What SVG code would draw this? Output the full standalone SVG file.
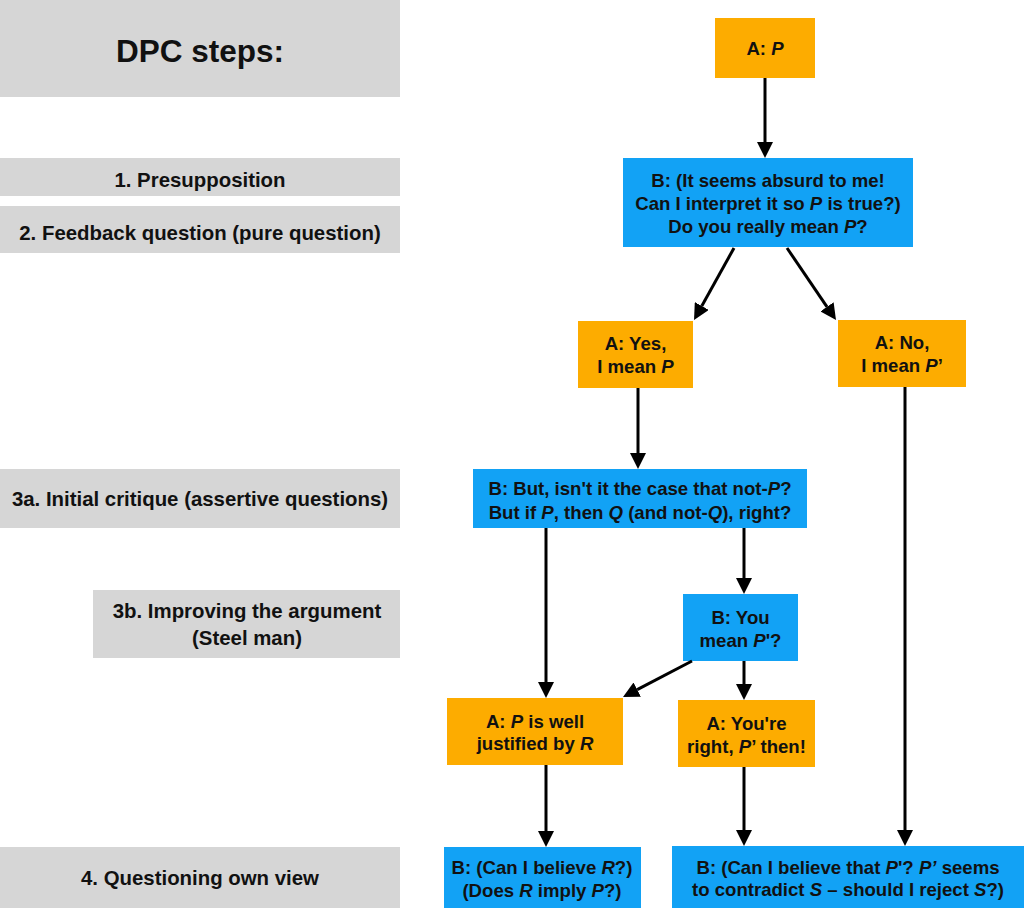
<svg xmlns="http://www.w3.org/2000/svg" width="1024" height="908" viewBox="0 0 1024 908">
<style>
text{font-family:"Liberation Sans",Arial,sans-serif;font-weight:bold;fill:#111;text-anchor:middle}
.step{fill:#d6d6d6}
.a{fill:#fdac00}
.b{fill:#12a2f5}
.t{font-size:18.6px}
.s{font-size:20.4px}
.i{font-style:italic}
.c line{stroke:#000;stroke-width:3}
</style>
<defs>
<marker id="ah" viewBox="0 0 10 10" refX="0" refY="5" markerWidth="16" markerHeight="16" markerUnits="userSpaceOnUse" orient="auto">
<path d="M0,0 L10,5 L0,10 z" fill="#000"/>
</marker>
</defs>
<rect width="1024" height="908" fill="#fff"/>
<g id="steps">
<g id="step-title"><rect class="step" x="0" y="0" width="400" height="97"/><text x="200" y="62" style="font-size:31.5px">DPC steps:</text></g>
<g id="step-1"><rect class="step" x="0" y="158" width="400" height="38"/><text class="s" x="200" y="187">1. Presupposition</text></g>
<g id="step-2"><rect class="step" x="0" y="206" width="400" height="47"/><text class="s" x="200" y="240">2. Feedback question (pure question)</text></g>
<g id="step-3a"><rect class="step" x="0" y="469" width="400" height="59"/><text class="s" x="200" y="506">3a. Initial critique (assertive questions)</text></g>
<g id="step-3b"><rect class="step" x="93" y="590" width="307" height="68"/><text class="s" x="247" y="618">3b. Improving the argument</text><text class="s" x="247" y="645">(Steel man)</text></g>
<g id="step-4"><rect class="step" x="0" y="847" width="400" height="61"/><text class="s" x="200" y="885">4. Questioning own view</text></g>
</g>
<g id="n1"><rect class="a" x="715" y="18" width="100" height="60"/><text class="t" x="765" y="55">A: <tspan class="i">P</tspan></text></g>
<g id="n2"><rect class="b" x="623" y="158" width="290" height="89"/>
<text class="t" x="768" y="187">B: (It seems absurd to me!</text>
<text class="t" x="768" y="210">Can I interpret it so <tspan class="i">P</tspan> is true?)</text>
<text class="t" x="768" y="233">Do you really mean <tspan class="i">P</tspan>?</text></g>
<g id="n3"><rect class="a" x="578" y="321" width="115" height="67"/><text class="t" x="635.5" y="350">A: Yes,</text><text class="t" x="635.5" y="373">I mean <tspan class="i">P</tspan></text></g>
<g id="n4"><rect class="a" x="838" y="320" width="128" height="67"/><text class="t" x="902" y="349">A: No,</text><text class="t" x="902" y="372">I mean <tspan class="i">P</tspan>’</text></g>
<g id="n5"><rect class="b" x="473" y="469" width="334" height="59"/>
<text class="t" x="640" y="495">B: But, isn't it the case that not-<tspan class="i">P</tspan>?</text>
<text class="t" x="640" y="519">But if <tspan class="i">P</tspan>, then <tspan class="i">Q</tspan> (and not-<tspan class="i">Q</tspan>), right?</text></g>
<g id="n6"><rect class="b" x="683" y="594" width="115" height="67"/><text class="t" x="740.5" y="624">B: You</text><text class="t" x="740.5" y="647">mean <tspan class="i">P</tspan>'?</text></g>
<g id="n7"><rect class="a" x="447" y="698" width="176" height="67"/><text class="t" x="535" y="728">A: <tspan class="i">P</tspan> is well</text><text class="t" x="535" y="750">justified by <tspan class="i">R</tspan></text></g>
<g id="n8"><rect class="a" x="678" y="700" width="137" height="67"/><text class="t" x="746.5" y="730">A: You're</text><text class="t" x="746.5" y="753">right, <tspan class="i">P</tspan>’ then!</text></g>
<g id="n9"><rect class="b" x="444" y="847" width="197" height="61"/><text class="t" x="542" y="874">B: (Can I believe <tspan class="i">R</tspan>?)</text><text class="t" x="542" y="897">(Does <tspan class="i">R</tspan> imply <tspan class="i">P</tspan>?)</text></g>
<g id="n10"><rect class="b" x="672" y="846" width="352" height="62"/><text class="t" x="848" y="874">B: (Can I believe that <tspan class="i">P</tspan>'? <tspan class="i">P’</tspan> seems</text><text class="t" x="848" y="896">to contradict <tspan class="i">S</tspan> – should I reject <tspan class="i">S</tspan>?)</text></g>
<g id="connectors" class="c">
<line x1="765" y1="78" x2="765" y2="142" marker-end="url(#ah)"/>
<line x1="734" y1="248" x2="701.8" y2="306" marker-end="url(#ah)"/>
<line x1="787" y1="248" x2="827" y2="306.8" marker-end="url(#ah)"/>
<line x1="638" y1="388" x2="638" y2="453" marker-end="url(#ah)"/>
<line x1="905" y1="387" x2="905" y2="830" marker-end="url(#ah)"/>
<line x1="744" y1="528" x2="744" y2="578" marker-end="url(#ah)"/>
<line x1="546" y1="528" x2="546" y2="682" marker-end="url(#ah)"/>
<line x1="692" y1="661" x2="637.2" y2="689.6" marker-end="url(#ah)"/>
<line x1="744" y1="661" x2="744" y2="684" marker-end="url(#ah)"/>
<line x1="546" y1="765" x2="546" y2="831" marker-end="url(#ah)"/>
<line x1="744" y1="767" x2="744" y2="830" marker-end="url(#ah)"/>
</g>
</svg>
